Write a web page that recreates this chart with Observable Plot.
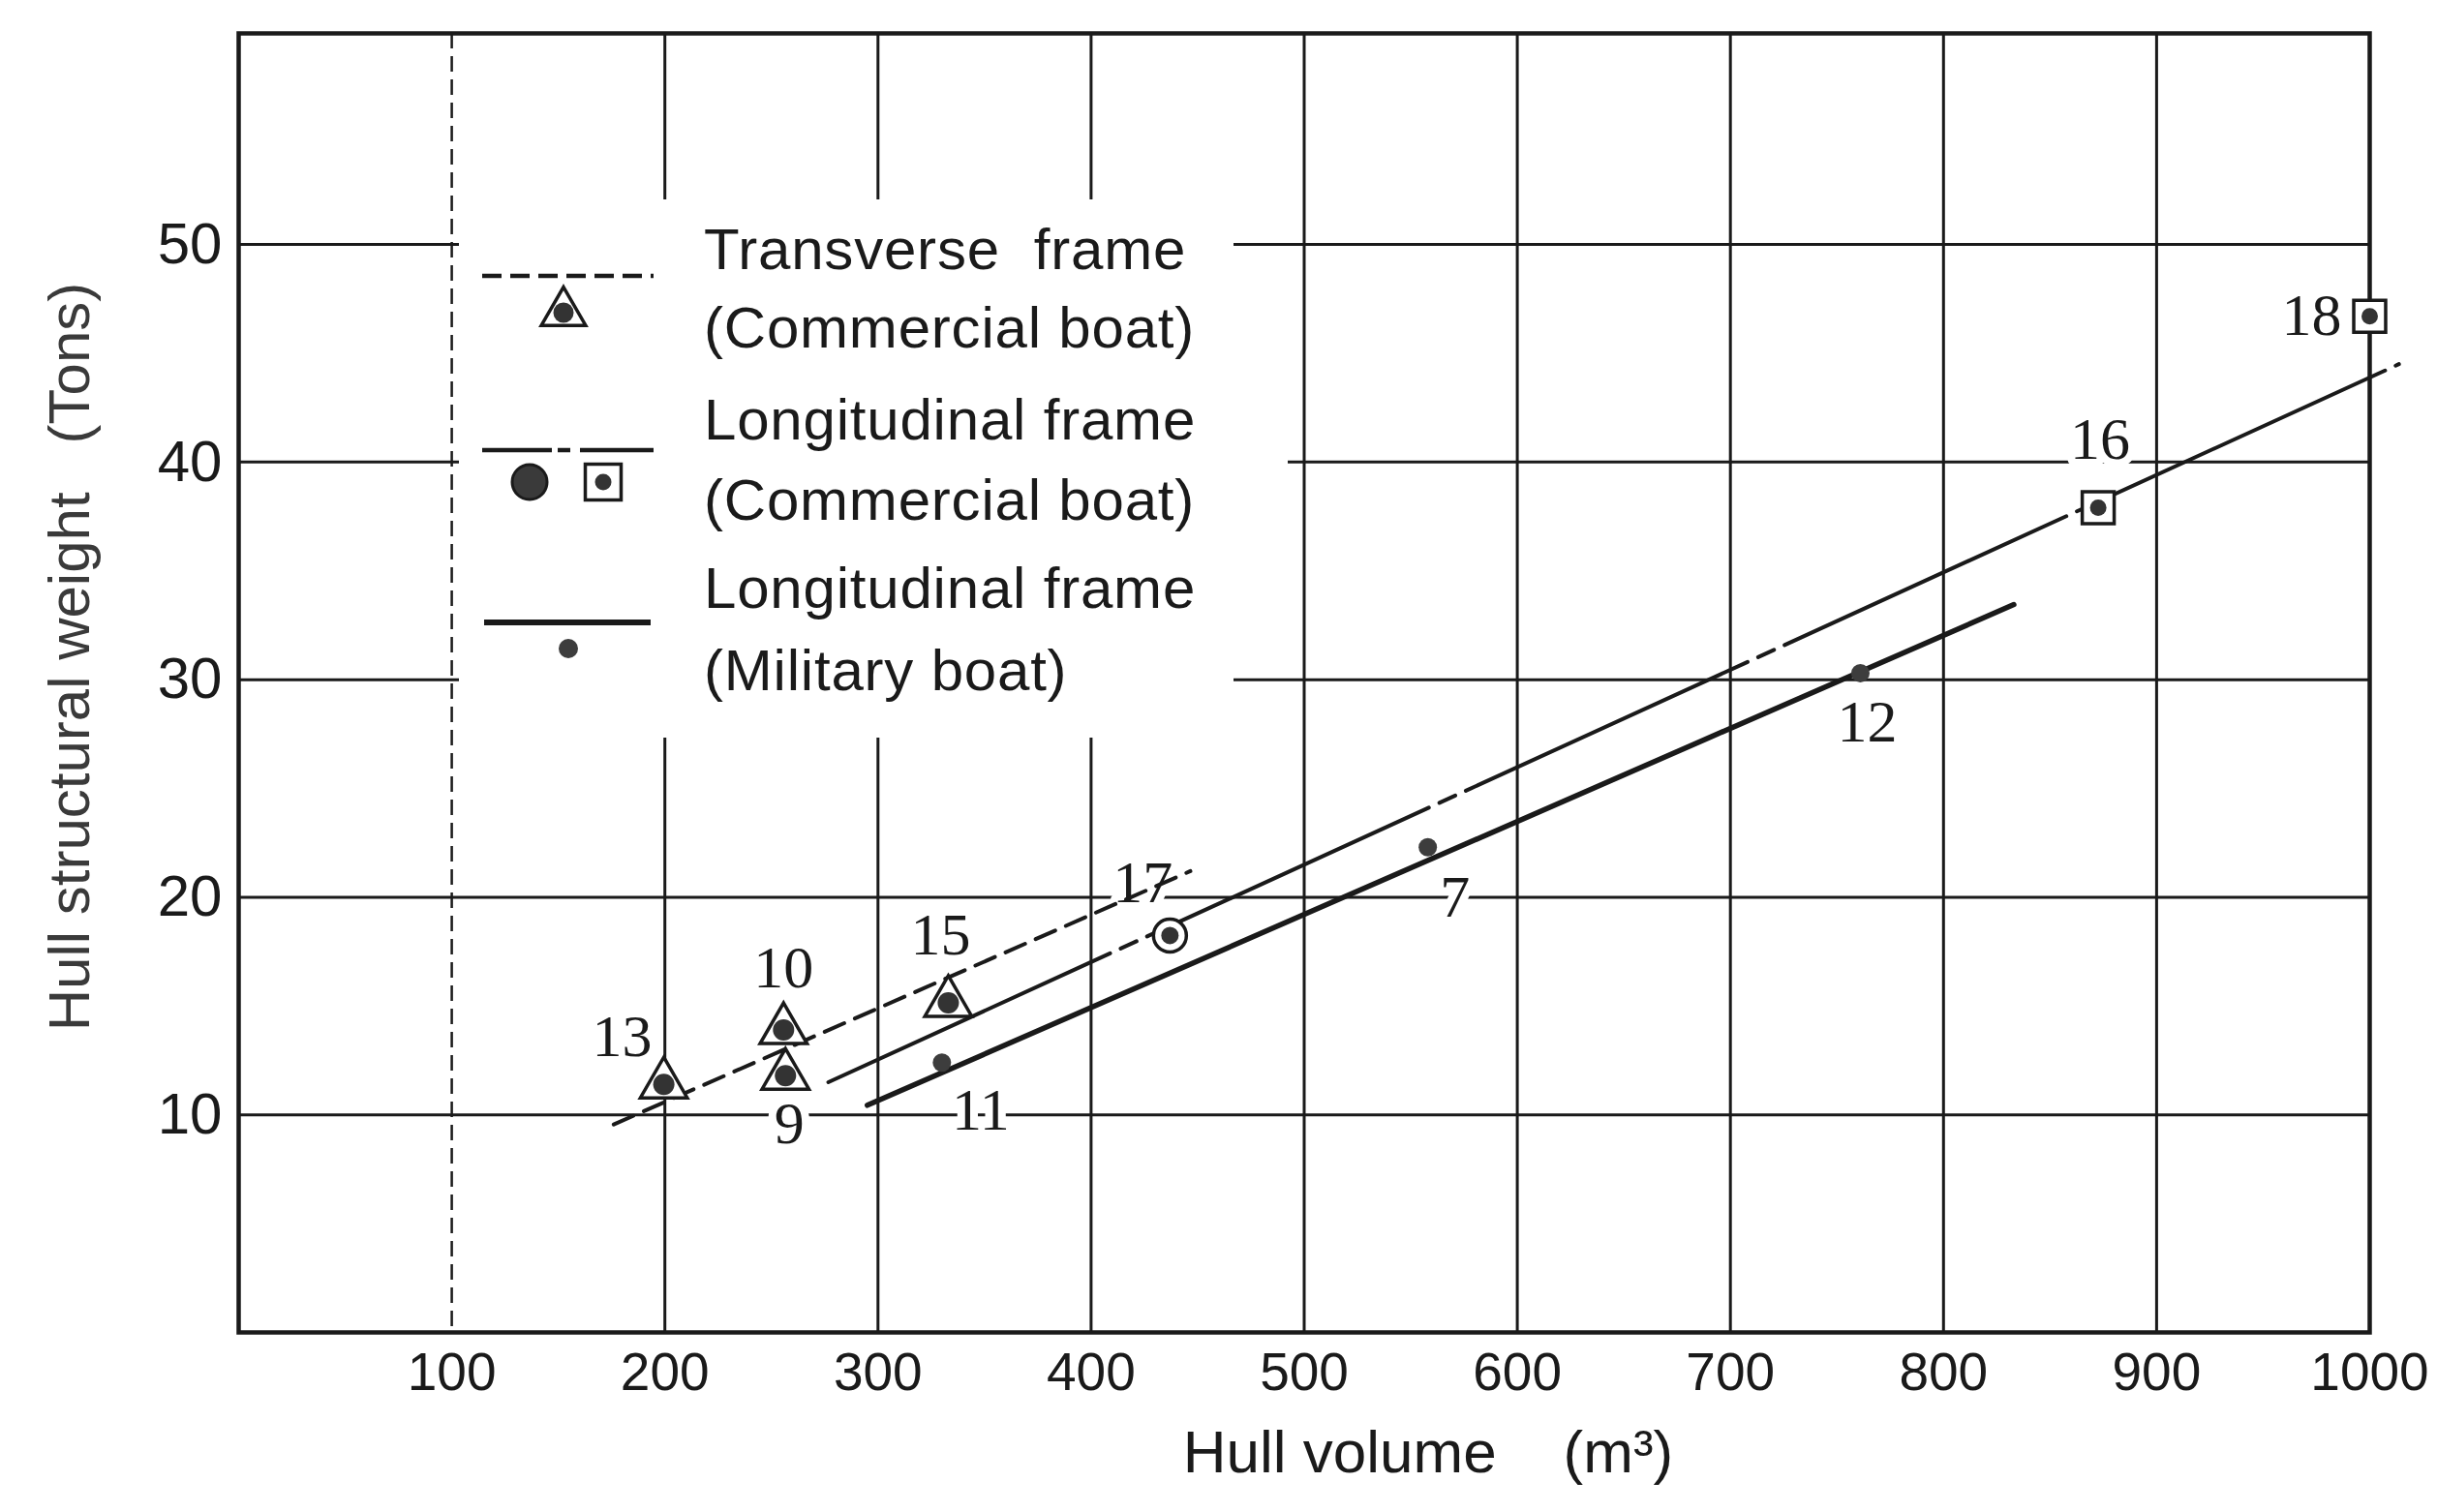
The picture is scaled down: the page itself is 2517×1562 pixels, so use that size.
<!DOCTYPE html>
<html>
<head>
<meta charset="utf-8">
<script src="https://cdn.jsdelivr.net/npm/d3@7"></script>
<script src="https://cdn.jsdelivr.net/npm/@observablehq/plot@0.6"></script>
<style>
  html, body { margin: 0; padding: 0; background: #fff; }
  #chart { width: 2517px; height: 1562px; }
</style>
</head>
<body>
<div id="chart"></div>
<script>
// ---------------- data ----------------
const xTicks = [100, 200, 300, 400, 500, 600, 700, 800, 900, 1000];
const yTicks = [10, 20, 30, 40, 50];

// Transverse frame (commercial boat) – triangles
const transverseCommercial = [
  { id: "13", x: 199.5, y: 11.4 },
  { id: "10", x: 255.7, y: 13.9 },
  { id: "9",  x: 256.6, y: 11.8 },
  { id: "15", x: 333.0, y: 15.15 }
];
// Longitudinal frame (commercial boat) – circle and squares
const longitudinalCommercialCircle = [
  { id: "17", x: 437.0, y: 18.24 }
];
const longitudinalCommercialSquare = [
  { id: "16", x: 872.6, y: 37.9 },
  { id: "18", x: 1000.0, y: 46.7 }
];
// Longitudinal frame (military boat) – small dots
const longitudinalMilitary = [
  { id: "11", x: 330.0, y: 12.4 },
  { id: "7",  x: 558.0, y: 22.3 },
  { id: "12", x: 761.0, y: 30.3 }
];

// Fitted lines (end points)
const transverseFit = [ { x: 176.0, y: 9.56 }, { x: 446.6, y: 21.2 } ];
const longitudinalCommercialFit = [ { x: 276.7, y: 11.5 }, { x: 1013.7, y: 44.5 } ];
const longitudinalMilitaryFit = [ { x: 295.0, y: 10.44 }, { x: 833.0, y: 33.45 } ];

const legendLabels = [
  ["Transverse\u00A0 frame", "(Commercial boat)"],
  ["Longitudinal frame", "(Commercial boat)"],
  ["Longitudinal frame", "(Military boat)"]
];
const xLabel = "Hull volume\u00A0\u00A0\u00A0\u00A0(m³)";
const yLabel = "Hull structural weight\u00A0\u00A0\u00A0(Tons)";

// ---------------- layout / style ----------------
const W = 2517, H = 1562;
const M = { left: 246, right: 70, top: 34, bottom: 186 };
const ink = "#1a1a1a";
const sans = "'Liberation Sans', Arial, 'DejaVu Sans', sans-serif";
const serif = "'Liberation Serif', 'DejaVu Serif', serif";
// label offsets (px) of the boat numbers relative to their marker
const labelOffset = {
  "13": [-43, -49], "10": [0, -64], "9": [4, 50], "15": [-8, -70],
  "11": [40, 49], "17": [-28, -54], "7": [28, 52], "12": [7, 51],
  "16": [2, -70], "18": [-60, -1]
};

const allPoints = [
  ...transverseCommercial, ...longitudinalCommercialCircle,
  ...longitudinalCommercialSquare, ...longitudinalMilitary
];

const labelMarks = allPoints.map(p => Plot.text([p], {
  x: "x", y: "y", text: "id",
  dx: labelOffset[p.id][0], dy: labelOffset[p.id][1],
  fontFamily: serif, fontSize: 62, fill: ink,
  stroke: "white", strokeWidth: 16, paintOrder: "stroke"
}));

const plot = Plot.plot({
  width: W,
  height: H,
  marginLeft: M.left,
  marginRight: M.right,
  marginTop: M.top,
  marginBottom: M.bottom,
  style: { background: "white", fontFamily: sans, fontSize: "54px", color: ink },
  x: { domain: [0, 1000], label: null },
  y: { domain: [0, 59.7], label: null },
  marks: [
    Plot.ruleX(xTicks.filter(d => d !== 100 && d !== 1000), { stroke: ink, strokeWidth: 3 }),
    Plot.ruleX([100], { stroke: ink, strokeWidth: 2.5, strokeDasharray: "16,8" }),
    Plot.ruleY(yTicks, { stroke: ink, strokeWidth: 3 }),
    Plot.frame({ stroke: ink, strokeWidth: 4.5 }),
    ...labelMarks,
    Plot.line(transverseFit, { x: "x", y: "y", stroke: ink, strokeWidth: 4, strokeDasharray: "22,12" }),
    Plot.line(longitudinalCommercialFit, { x: "x", y: "y", stroke: ink, strokeWidth: 4, strokeDasharray: "320,12,18,12" }),
    Plot.line(longitudinalMilitaryFit, { x: "x", y: "y", stroke: ink, strokeWidth: 5.5 }),
    Plot.dot(transverseCommercial, { x: "x", y: "y", symbol: "triangle", r: 18, fill: "white", stroke: ink, strokeWidth: 3.5 }),
    Plot.dot(transverseCommercial, { x: "x", y: "y", r: 11, fill: "#333" }),
    Plot.dot(longitudinalCommercialCircle, { x: "x", y: "y", r: 17, fill: "white", stroke: ink, strokeWidth: 3.5 }),
    Plot.dot(longitudinalCommercialCircle, { x: "x", y: "y", r: 9, fill: "#333" }),
    Plot.dot(longitudinalCommercialSquare, { x: "x", y: "y", symbol: "square", r: 18.6, fill: "white", stroke: ink, strokeWidth: 3.5 }),
    Plot.dot(longitudinalCommercialSquare, { x: "x", y: "y", r: 8.5, fill: "#333" }),
    Plot.dot(longitudinalMilitary, { x: "x", y: "y", r: 9.5, fill: "#3d3d3d" }),
    Plot.axisX({ ticks: xTicks, tickSize: 0, tickPadding: 20, tickFormat: d => String(d), fontSize: 55, fontFamily: sans, label: null }),
    Plot.axisY({ ticks: yTicks, tickSize: 0, tickPadding: 17, tickFormat: d => String(d), fontSize: 60, fontFamily: sans, label: null }),
    Plot.text([xLabel], { text: d => d, frameAnchor: "bottom", textAnchor: "middle", dx: 128, dy: 144, fontSize: 62, fontFamily: sans, fill: ink }),
    Plot.text([yLabel], { text: d => d, frameAnchor: "left", textAnchor: "middle", rotate: -90, dx: -174, dy: -27, fontSize: 60, fontFamily: sans, fill: "#3a3a3a", letterSpacing: 5.5 })
  ]
});

document.getElementById("chart").appendChild(plot);

// ---------------- legend (drawn over the grid, white background) ----------------
const svg = d3.select(plot);
const g = svg.append("g").attr("class", "legend");
g.append("rect").attr("x", 474).attr("y", 206).attr("width", 800).attr("height", 556).attr("fill", "white");
g.append("rect").attr("x", 1240).attr("y", 458).attr("width", 90).attr("height", 44).attr("fill", "white");

// line samples
g.append("line").attr("x1", 498).attr("x2", 675).attr("y1", 285).attr("y2", 285)
  .attr("stroke", ink).attr("stroke-width", 4.5).attr("stroke-dasharray", "20,9");
g.append("line").attr("x1", 498).attr("x2", 675).attr("y1", 465).attr("y2", 465)
  .attr("stroke", ink).attr("stroke-width", 4.5).attr("stroke-dasharray", "72,6,13,10,90");
g.append("line").attr("x1", 500).attr("x2", 672).attr("y1", 643).attr("y2", 643)
  .attr("stroke", ink).attr("stroke-width", 6);

// symbol samples
g.append("path").attr("transform", "translate(582,323)")
  .attr("d", d3.symbol(d3.symbolTriangle, Math.PI * 17 * 17)())
  .attr("fill", "white").attr("stroke", ink).attr("stroke-width", 3.5);
g.append("circle").attr("cx", 582).attr("cy", 323).attr("r", 10.5).attr("fill", "#333");
g.append("circle").attr("cx", 547).attr("cy", 498).attr("r", 18).attr("fill", "#3a3a3a").attr("stroke", ink).attr("stroke-width", 3);
g.append("path").attr("transform", "translate(623,498)")
  .attr("d", d3.symbol(d3.symbolSquare, 37 * 37)())
  .attr("fill", "white").attr("stroke", ink).attr("stroke-width", 3.5);
g.append("circle").attr("cx", 623).attr("cy", 498).attr("r", 8.5).attr("fill", "#333");
g.append("circle").attr("cx", 587).attr("cy", 670).attr("r", 10).attr("fill", "#3d3d3d");

// legend text
const baselines = [[278, 359], [454, 537], [628, 713]];
legendLabels.forEach((pair, i) => {
  pair.forEach((t, j) => {
    g.append("text").attr("x", 727).attr("y", baselines[i][j])
      .attr("text-anchor", "start")
      .attr("font-family", sans).attr("font-size", 60)
      .attr("letter-spacing", 0.8).attr("fill", ink)
      .text(t);
  });
});
</script>
</body>
</html>
